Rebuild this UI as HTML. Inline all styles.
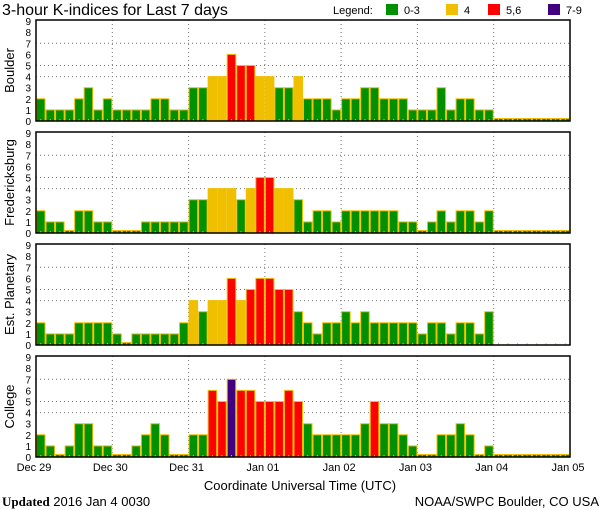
<!DOCTYPE html>
<html><head><meta charset="utf-8"><style>
body{margin:0;background:#fff;}
svg{display:block;font-family:"Liberation Sans",sans-serif;}
</style></head><body>
<svg id="c" width="600" height="510"></svg>
<script>
const stations = ["Boulder","Fredericksburg","Est. Planetary","College"];
const boulder = [2,1,1,1,2,3,1,2, 1,1,1,1,2,2,1,1, 3,3,4,4,6,5,5,4, 4,3,3,4,2,2,2,1, 2,2,3,3,2,2,2,1, 1,1,3,1,2,2,1,1, 0,0,0,0,0,0,0,0];
const fredericksburg = [2,1,1,0,2,2,1,1, 0,0,0,1,1,1,1,1, 3,3,4,4,4,3,4,5, 5,4,4,3,1,2,2,1, 2,2,2,2,2,2,1,1, 0,1,2,1,2,2,1,2, 0,0,0,0,0,0,0,0];
const planetary = [2,1,1,1,2,2,2,2, 1,0,1,1,1,1,1,2, 4,3,4,4,6,4,5,6, 6,5,5,3,2,1,2,2, 3,2,3,2,2,2,2,2, 1,2,2,1,2,2,1,3, null,null,null,null,null,null,null,null];
const college = [2,1,0,1,3,3,1,1, 0,0,1,2,3,2,0,0, 2,2,6,5,7,6,6,5, 5,5,6,5,3,2,2,2, 2,2,3,5,3,3,2,1, 0,0,2,2,3,2,0,1, 0,0,0,0,0,0,0,0];
const dayLabels = ["Dec 29","Dec 30","Dec 31","Jan 01","Jan 02","Jan 03","Jan 04","Jan 05"];
const yTicks = [0,1,2,3,4,5,6,7,8,9];
const series = [boulder,fredericksburg,planetary,college];

const svg = document.getElementById('c');
const NS = "http://www.w3.org/2000/svg";
function mk(tag, at, parent){const e=document.createElementNS(NS,tag);for(const k in at)e.setAttribute(k,at[k]);(parent||svg).appendChild(e);return e;}
const X0=36, X1=570, tops=[20,132,244,356], PH=101;
const nBars=56, bw=(X1-X0)/nBars;
const xs = i => X0 + i*bw;
const ys = (top,v) => top+PH - v*(PH/9.1);
function col(v){return v>=7?"#400080":v>=5?"#ff0000":v===4?"#f0c000":"#009000";}

// title + legend
let t=mk('text',{x:2,y:15,'font-size':16,fill:'#000'});t.textContent="3-hour K-indices for Last 7 days";

let lg=mk('text',{x:333,y:14,'font-size':11});lg.textContent="Legend:";

[["0-3","#009000",386],["4","#f0c000",446],["5,6","#ff0000",488],["7-9","#400080",548]].forEach(l=>{
 const g=mk('g',{});
 
 mk('rect',{x:l[2],y:4,width:12,height:11,fill:l[1]},g);
 const tx=mk('text',{x:l[2]+18,y:14,'font-size':11},g);tx.textContent=l[0];
});

series.forEach((data,p)=>{
 const top=tops[p];
 const g=mk('g',{});
 
 
 // grid
 [4,5,7].forEach(v=>mk('line',{x1:X0,x2:X1,y1:ys(top,v),y2:ys(top,v),stroke:'#777','stroke-dasharray':'1,3'},g));
 for(let d=1;d<7;d++){const x=X0+d*8*bw;mk('line',{x1:x,x2:x,y1:top,y2:top+PH,stroke:'#777','stroke-dasharray':'1,3'},g);}
 // bars
 data.forEach((v,i)=>{
  if(v===null){mk('line',{x1:xs(i)+bw/2,x2:xs(i)+bw/2,y1:top+PH-2,y2:top+PH,stroke:'#f0c000'},g);return;}
  const h=v===0?2.5:v*(PH/9.1);
  const r=mk('rect',{x:xs(i)+0.5,y:top+PH-h,width:bw-1,height:h,fill:col(v),stroke:'#f0c000','stroke-width':1},g);
  
  mk('line',{x1:xs(i)+bw/2,x2:xs(i)+bw/2,y1:top+PH-2,y2:top+PH,stroke:'#f0c000'},g);
 });
 // frame
 mk('rect',{x:X0,y:top,width:X1-X0,height:PH,fill:'none',stroke:'#000','stroke-width':1.5},g);
 // y ticks
 yTicks.forEach(v=>{const tt=mk('text',{x:31,y:ys(top,v)+4,'font-size':10,'text-anchor':'end'},g);tt.textContent=v;});
 const yl=mk('text',{transform:`translate(14,${top+PH/2}) rotate(-90)`,'font-size':13,'text-anchor':'middle'},g);
 yl.textContent=stations[p];
 
});
// x labels
dayLabels.forEach((d,i)=>{const tx=mk('text',{x:X0+i*8*bw-2,y:471,'font-size':11,'text-anchor':'middle'});tx.textContent=d;
 });
let xt=mk('text',{x:300,y:490,'font-size':13,'text-anchor':'middle'});xt.textContent="Coordinate Universal Time (UTC)";

let up=mk('text',{x:2,y:506,'font-size':13});up.innerHTML='<tspan font-weight="bold" font-family="Liberation Serif">Updated</tspan> 2016 Jan  4 0030';

let src=mk('text',{x:599,y:506,'font-size':13,'text-anchor':'end'});src.textContent="NOAA/SWPC Boulder, CO USA";

</script>
</body></html>
